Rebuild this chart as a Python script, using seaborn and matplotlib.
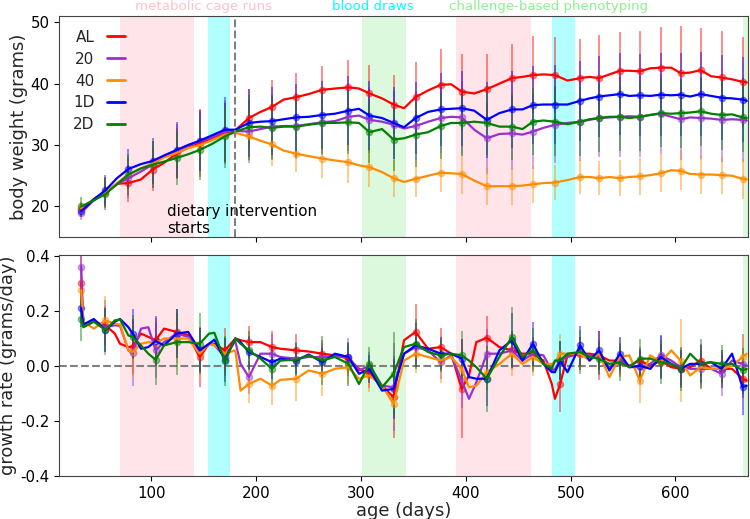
import numpy as np
import pandas as pd
import seaborn as sns
import matplotlib.pyplot as plt
from matplotlib.lines import Line2D

groups = ["AL", "20", "40", "1D", "2D"]
colors = ["red", "darkorchid", "darkorange", "blue", "green"]

# body weight, smoothed daily curves (grams)
weight_days = [33, 45, 56, 67, 78, 90, 101, 112, 124, 135, 146, 158, 170, 180, 193, 204, 215, 226, 238, 250,
               263, 275, 288, 298, 308, 320, 331, 341, 352, 364, 376, 386, 396, 408, 420, 432, 444, 454, 464, 474,
               485, 497, 509, 518, 527, 537, 547, 556, 566, 576, 586, 596, 605, 614, 624, 634, 644, 654, 664, 668]
weight_al = [19.6, 21.0, 22.3, 23.7, 23.8, 24.4, 26.0, 27.1, 28.6, 29.6, 30.3, 31.1, 31.9, 32.4, 34.4, 35.4, 36.2, 37.4, 37.8, 38.3,
             39.0, 39.2, 39.4, 39.2, 38.4, 37.6, 36.6, 36.0, 37.8, 38.9, 39.8, 39.9, 38.7, 38.4, 39.1, 40.0, 40.9, 41.1, 41.4, 41.5,
             41.4, 40.5, 40.9, 41.1, 40.9, 41.5, 42.1, 42.1, 42.0, 42.5, 42.6, 42.6, 41.7, 41.8, 42.2, 41.2, 41.0, 40.7, 40.3, 40.2]
weight_20 = [19.0, 21.0, 22.3, 23.6, 24.6, 25.7, 26.8, 28.2, 29.0, 30.0, 30.6, 31.3, 32.2, 32.3, 32.2, 32.6, 33.0, 33.1, 33.1, 33.4,
             33.7, 33.9, 34.6, 34.8, 34.1, 33.8, 33.3, 32.7, 33.1, 33.8, 34.4, 34.6, 34.5, 32.5, 31.1, 31.8, 31.9, 31.7, 32.2, 32.8,
             33.3, 33.6, 33.8, 34.1, 34.4, 34.5, 34.6, 34.7, 34.6, 34.9, 35.1, 34.6, 34.2, 34.5, 34.4, 34.3, 34.1, 34.2, 34.1, 34.0]
weight_40 = [19.7, 21.2, 22.3, 23.8, 25.2, 26.2, 27.0, 28.0, 28.7, 29.5, 30.0, 30.8, 31.7, 32.0, 31.4, 30.7, 30.1, 29.1, 28.6, 28.2,
             27.8, 27.5, 27.2, 26.7, 26.4, 25.6, 24.6, 24.0, 24.5, 25.0, 25.5, 25.4, 25.3, 24.2, 23.3, 23.3, 23.3, 23.4, 23.6, 23.8,
             23.9, 24.3, 24.8, 24.8, 24.6, 24.8, 24.6, 24.8, 24.9, 25.1, 25.4, 25.9, 25.8, 25.3, 25.2, 25.2, 25.1, 25.0, 24.5, 24.4]
weight_1d = [19.2, 21.2, 22.6, 24.6, 26.1, 26.9, 27.4, 28.3, 29.2, 30.0, 30.7, 31.6, 32.5, 32.5, 33.6, 33.8, 33.9, 34.2, 34.5, 34.6,
             34.9, 35.1, 35.6, 35.9, 34.8, 34.4, 33.6, 32.9, 34.4, 35.4, 35.8, 35.9, 36.0, 35.6, 34.1, 35.2, 35.8, 35.8, 36.5, 36.6,
             36.6, 36.6, 37.2, 37.6, 37.9, 38.1, 38.3, 38.0, 38.1, 38.0, 38.2, 38.1, 38.2, 37.9, 38.3, 38.0, 37.7, 37.6, 37.4, 37.2]
weight_2d = [20.0, 21.0, 22.0, 23.6, 25.2, 26.2, 26.8, 27.3, 27.9, 28.5, 29.2, 30.2, 31.4, 32.2, 32.9, 33.0, 32.8, 33.0, 33.0, 33.3,
             33.6, 33.6, 33.7, 33.6, 32.1, 32.6, 30.9, 31.1, 31.7, 32.1, 33.1, 33.6, 33.6, 33.8, 33.6, 33.0, 33.0, 32.6, 33.8, 34.0,
             33.8, 33.4, 33.8, 34.2, 34.4, 34.6, 34.6, 34.4, 34.6, 34.9, 35.2, 35.1, 35.2, 35.3, 35.5, 35.1, 34.9, 35.0, 34.5, 34.4]

# days with a mean +/- sd marker, and the sd per group
weight_err_days = [33, 56, 78, 101, 124, 146, 170, 193, 215, 238, 263, 288, 308, 331, 352,
                   376, 396, 420, 444, 464, 485, 509, 527, 547, 566, 586, 605, 624, 644, 664]
weight_sd_al = [1.0, 2.5, 3.0, 3.5, 4.2, 5.5, 5.0, 4.8, 4.4, 4.0, 3.9, 4.4, 4.6, 4.8, 5.8,
                5.9, 6.2, 5.8, 5.6, 6.3, 6.2, 6.3, 7.0, 6.3, 6.6, 6.6, 7.7, 6.8, 7.5, 7.3]
weight_sd_20 = [1.2, 2.4, 3.2, 3.8, 4.4, 4.8, 5.0, 5.2, 5.2, 5.3, 5.4, 5.5, 5.4, 5.5, 5.6,
                5.7, 5.9, 5.8, 6.0, 6.1, 6.3, 6.4, 6.4, 6.5, 6.6, 6.5, 6.6, 6.7, 6.8, 6.9]
weight_sd_40 = [1.0, 2.3, 3.0, 3.5, 4.0, 4.4, 4.6, 4.0, 3.5, 3.0, 3.2, 3.3, 3.2, 3.0, 3.0,
                3.2, 3.2, 3.0, 3.1, 3.0, 2.9, 2.8, 2.8, 2.9, 3.0, 3.1, 3.2, 3.1, 3.0, 3.3]
weight_sd_1d = [0.9, 2.5, 3.2, 3.8, 4.5, 5.0, 5.3, 5.5, 5.5, 5.4, 5.5, 5.6, 5.6, 5.8, 5.9,
                6.0, 6.1, 6.2, 6.3, 6.4, 6.5, 6.5, 6.6, 6.7, 6.7, 6.8, 6.8, 6.8, 6.9, 6.9]
weight_sd_2d = [1.5, 2.6, 3.3, 3.8, 4.4, 4.9, 5.1, 5.3, 5.2, 5.0, 5.0, 5.1, 5.0, 5.2, 5.3,
                5.4, 5.4, 5.3, 5.4, 5.5, 5.6, 5.6, 5.5, 5.5, 5.6, 5.5, 5.6, 5.6, 5.7, 5.6]

# growth rate (grams/day)
rate_days = [33, 35, 45, 56, 65, 70, 78, 82, 90, 97, 104, 112, 124, 135, 146, 155, 160, 170, 180, 185,
             193, 204, 215, 223, 238, 250, 263, 275, 288, 298, 308, 320, 331, 341, 352, 364, 376, 386, 396, 403,
             410, 420, 432, 444, 454, 464, 474, 482, 485, 490, 497, 509, 518, 527, 537, 547, 556, 566, 576, 586,
             596, 605, 614, 624, 634, 644, 654, 664, 668]
rate_al = [0.30, 0.15, 0.16, 0.147, 0.117, 0.08, 0.068, 0.07, 0.117, 0.105, 0.093, 0.135, 0.123, 0.111, 0.032, 0.08, 0.08, 0.056, 0.099, 0.093,
           0.086, 0.086, 0.068, 0.062, 0.056, 0.052, 0.044, 0.038, 0.026, -0.011, -0.029, -0.072, -0.114, 0.093, 0.123, 0.062, 0.068, 0.044, -0.084, -0.035,
           0.086, 0.102, 0.068, 0.056, 0.044, 0.044, 0.019, -0.066, -0.12, -0.066, 0.038, 0.044, 0.044, 0.038, 0.019, 0.019, 0.0, 0.019, 0.0, 0.019,
           -0.005, -0.011, -0.005, 0.019, -0.011, -0.011, -0.011, -0.047, -0.054]
rate_20 = [0.36, 0.145, 0.165, 0.14, 0.147, 0.145, 0.056, 0.045, 0.135, 0.14, 0.056, 0.086, 0.117, 0.105, 0.056, 0.08, 0.075, 0.032, 0.09, 0.007,
           -0.041, 0.044, 0.044, 0.032, 0.026, 0.032, 0.032, 0.035, 0.032, -0.017, 0.0, -0.072, -0.078, 0.044, 0.068, 0.056, 0.013, 0.038, -0.054, -0.12,
           -0.06, 0.044, 0.044, 0.056, 0.019, 0.044, 0.038, -0.017, -0.012, 0.019, 0.032, 0.044, 0.038, 0.032, -0.005, 0.019, -0.005, -0.005, 0.007, 0.038,
           0.019, -0.005, -0.011, -0.011, -0.011, -0.029, 0.019, 0.007, 0.0]
rate_40 = [0.275, 0.16, 0.135, 0.165, 0.153, 0.15, 0.056, 0.05, 0.08, 0.086, 0.083, 0.099, 0.099, 0.099, 0.044, 0.08, 0.075, 0.044, 0.056, -0.09,
           -0.066, -0.047, -0.072, -0.051, -0.047, -0.017, -0.029, -0.011, -0.005, -0.047, -0.035, -0.072, -0.139, 0.019, 0.044, 0.032, 0.019, 0.032, -0.011, -0.078,
           -0.072, -0.023, 0.007, 0.044, 0.007, 0.032, 0.007, 0.007, 0.013, 0.044, 0.044, 0.044, 0.019, 0.044, -0.041, 0.032, 0.038, -0.054, 0.038, 0.013,
           0.056, 0.019, -0.035, -0.005, -0.011, -0.011, 0.0, 0.032, 0.044]
rate_1d = [0.21, 0.15, 0.17, 0.13, 0.16, 0.17, 0.14, 0.117, 0.062, 0.068, 0.09, 0.074, 0.117, 0.123, 0.056, 0.08, 0.095, 0.022, 0.099, 0.086,
           0.05, 0.032, 0.013, 0.026, 0.019, 0.041, 0.013, 0.044, 0.032, -0.029, -0.012, -0.09, -0.084, 0.044, 0.074, 0.062, 0.044, 0.044, 0.026, -0.041,
           -0.047, -0.047, 0.056, 0.093, 0.019, 0.08, 0.007, -0.023, -0.023, 0.019, -0.023, 0.074, 0.019, 0.056, -0.017, 0.044, -0.005, 0.0, -0.011, 0.032,
           0.007, -0.011, 0.007, 0.007, 0.013, -0.011, 0.044, -0.078, -0.072]
rate_2d = [0.17, 0.14, 0.16, 0.13, 0.165, 0.168, 0.11, 0.105, 0.074, 0.044, 0.022, 0.074, 0.086, 0.086, 0.08, 0.117, 0.12, 0.017, 0.1, 0.08,
           0.056, 0.026, -0.011, 0.019, 0.022, 0.038, 0.019, 0.032, 0.007, -0.066, 0.007, -0.078, -0.029, 0.068, 0.08, 0.05, 0.038, 0.044, 0.038, 0.019,
           -0.005, -0.047, 0.032, 0.105, 0.032, 0.056, 0.007, -0.011, 0.019, 0.019, 0.044, 0.05, 0.032, 0.026, 0.007, 0.013, -0.005, 0.026, 0.026, 0.013,
           0.007, -0.011, 0.044, 0.007, 0.013, 0.007, 0.007, -0.017, -0.011]

rate_err_days = [33, 56, 82, 104, 124, 146, 170, 193, 215, 238, 263, 288, 308, 331, 352,
                 376, 396, 420, 444, 464, 490, 509, 527, 547, 566, 586, 605, 624, 644, 664]
rate_sd_al = [0.10, 0.07, 0.10, 0.08, 0.07, 0.11, 0.08, 0.06, 0.06, 0.06, 0.05, 0.05, 0.05, 0.15, 0.10,
              0.07, 0.18, 0.08, 0.06, 0.05, 0.10, 0.06, 0.09, 0.05, 0.05, 0.06, 0.06, 0.06, 0.05, 0.07]
rate_sd_20 = [0.05, 0.10, 0.12, 0.10, 0.09, 0.08, 0.07, 0.06, 0.07, 0.06, 0.05, 0.07, 0.05, 0.16, 0.06,
              0.06, 0.10, 0.09, 0.07, 0.06, 0.07, 0.06, 0.06, 0.06, 0.06, 0.07, 0.07, 0.07, 0.08, 0.11]
rate_sd_40 = [0.06, 0.09, 0.09, 0.09, 0.09, 0.08, 0.07, 0.07, 0.07, 0.08, 0.08, 0.06, 0.06, 0.07, 0.07,
              0.08, 0.07, 0.07, 0.08, 0.07, 0.07, 0.06, 0.06, 0.07, 0.08, 0.06, 0.15, 0.07, 0.07, 0.08]
rate_sd_1d = [0.07, 0.08, 0.09, 0.09, 0.09, 0.08, 0.08, 0.06, 0.06, 0.05, 0.05, 0.05, 0.05, 0.11, 0.08,
              0.06, 0.07, 0.10, 0.10, 0.08, 0.07, 0.07, 0.07, 0.06, 0.06, 0.08, 0.07, 0.07, 0.07, 0.10]
rate_sd_2d = [0.08, 0.08, 0.08, 0.09, 0.12, 0.11, 0.09, 0.07, 0.07, 0.06, 0.09, 0.08, 0.06, 0.15, 0.09,
              0.06, 0.09, 0.12, 0.11, 0.08, 0.07, 0.08, 0.06, 0.07, 0.07, 0.08, 0.08, 0.09, 0.07, 0.08]

# experiment periods (start day, end day, colour)
periods = [(70, 141, "pink"), (154, 175, "cyan"), (301, 343, "lightgreen"),
           (391, 462, "pink"), (482, 504, "cyan"), (664, 680, "lightgreen")]
period_labels = [(150, "metabolic cage runs", "pink"), (311, "blood draws", "cyan"),
                 (479, "challenge-based phenotyping", "lightgreen")]


def to_long(days, series, name):
    frames = [pd.DataFrame({"day": days, name: vals, "group": g}) for g, vals in zip(groups, series)]
    return pd.concat(frames, ignore_index=True)


weight_df = to_long(weight_days, [weight_al, weight_20, weight_40, weight_1d, weight_2d], "weight")
rate_df = to_long(rate_days, [rate_al, rate_20, rate_40, rate_1d, rate_2d], "rate")
weight_sd = [weight_sd_al, weight_sd_20, weight_sd_40, weight_sd_1d, weight_sd_2d]
rate_sd = [rate_sd_al, rate_sd_20, rate_sd_40, rate_sd_1d, rate_sd_2d]

sns.set_style("ticks")
plt.rcParams["axes.unicode_minus"] = False
plt.rcParams["axes.edgecolor"] = "#444444"

fig, (ax1, ax2) = plt.subplots(2, 1, figsize=(7.5, 5.19), dpi=100, sharex=True)
fig.subplots_adjust(left=0.079, right=0.997, top=0.969, bottom=0.083, hspace=0.08)

for ax in (ax1, ax2):
    for start, end, c in periods:
        alpha = 0.4 if c == "pink" else 0.3
        ax.axvspan(start, end, color=c, alpha=alpha, lw=0, zorder=0)


def draw_panel(ax, df, col, err_days, sds):
    sns.lineplot(data=df, x="day", y=col, hue="group", hue_order=groups, palette=colors,
                 lw=1.6, ax=ax, legend=False, zorder=3)
    for g, c, sd in zip(groups, colors, sds):
        sub = df[(df["group"] == g) & (df["day"].isin(err_days))]
        ax.errorbar(sub["day"], sub[col], yerr=sd, fmt="o", color=c, alpha=0.45,
                    ms=4.5, elinewidth=1.4, capsize=0, zorder=2)


draw_panel(ax1, weight_df, "weight", weight_err_days, weight_sd)
draw_panel(ax2, rate_df, "rate", rate_err_days, rate_sd)

ax1.axvline(180, color="gray", ls="--", lw=1.5, zorder=4)
ax1.text(115, 15.2, "dietary intervention\nstarts", fontsize=10.8, ha="left", va="bottom", color="black")
for x, label, c in period_labels:
    ax1.text(x, 1.027, label, color=c, fontsize=9.6, ha="center", va="baseline",
             transform=ax1.get_xaxis_transform())

handles = [Line2D([], [], color=c, lw=2) for c in colors]
ax1.legend(handles, groups, loc="upper left", frameon=False, markerfirst=False,
           fontsize=11, handlelength=1.2, labelspacing=0.45)

ax2.axhline(0, color="gray", ls="--", lw=1.5, zorder=1)

ax1.set_ylim(15, 51)
ax1.set_yticks([20, 30, 40, 50])
ax2.set_ylim(-0.4, 0.403)
ax2.set_yticks([-0.4, -0.2, 0.0, 0.2, 0.4])
ax2.set_xlim(12, 669)
ax2.set_xticks([100, 200, 300, 400, 500, 600])

ax1.set_xlabel("")
ax1.set_ylabel("body weight (grams)", fontsize=12.9)
ax2.set_ylabel("growth rate (grams/day)", fontsize=12.9)
ax1.yaxis.set_label_coords(-0.046, 0.5)
ax2.yaxis.set_label_coords(-0.061, 0.5)
ax2.set_xlabel("age (days)", fontsize=12.9, labelpad=1)
for ax in (ax1, ax2):
    ax.tick_params(labelsize=10.8, colors="black")

fig.savefig("out.png", dpi=100)
